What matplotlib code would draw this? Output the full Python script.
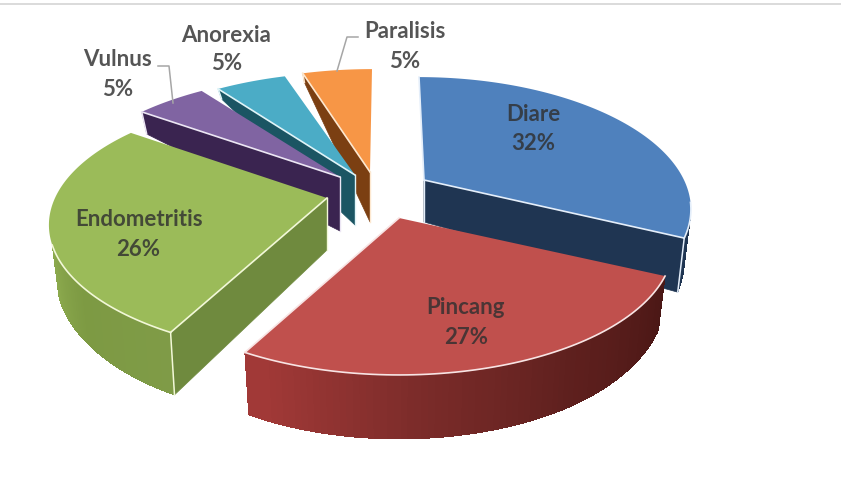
import numpy as np
import matplotlib
matplotlib.use("Agg")
import matplotlib.pyplot as plt
from matplotlib.patches import Polygon
from matplotlib.collections import PolyCollection
from matplotlib.colors import to_rgb

# ---- data ----
categories = ["Diare", "Pincang", "Endometritis", "Vulnus", "Anorexia", "Paralisis"]
percent = [32, 27, 26, 5, 5, 5]

# ---- style / layout (pixel space of the picture) ----
top_colors = ["#4f81bd", "#c0504d", "#9bbb59", "#8064a2", "#4bacc6", "#f79646"]
face_colors = ["#1f3552", "#5a1f1d", "#6f8a3e", "#3a2450", "#1b5563", "#7b3f12"]
edge_colors = ["#e4eefa", "#f8e4e4", "#f2f8d8", "#ece6f4", "#e0f4f8", "#fde8d0"]
apex_x = [424, 399, 327, 340, 355, 370]
apex_y = [180, 218, 198, 177, 175, 172]
radius = [260, 268, 272, 275, 272, 268]
apex_h = [42, 58, 52, 54, 50, 50]
lean = [5, 0, 0, 0, 0, -2]
draw_order = [5, 4, 3, 2, 0, 1]

DEPTH_A, DEPTH_B = 124.3, 0.208
BOTTOM_K = 0.975


def warp(theta):
    return np.interp(theta, [0, 115.2, 212.4, 306, 360], [0, 115.2, 208, 306, 360])


def project(i, theta):
    t = np.radians(warp(np.asarray(theta, dtype=float)))
    x, fwd = np.sin(t), -np.cos(t)
    f = 1 / (1 - DEPTH_B * fwd)
    return radius[i] * x * f + lean[i] * fwd, DEPTH_A * fwd * f, fwd


def rim_height(fwd):
    return np.interp(fwd, [-1, -0.81, -0.59, 0, 0.42, 0.85, 1], [9, 10, 22, 48, 54, 62, 64])


def rim(i, theta):
    dx, dy, fwd = project(i, theta)
    top = np.column_stack([apex_x[i] + dx, apex_y[i] + dy])
    bot = np.column_stack([apex_x[i] + dx * BOTTOM_K, apex_y[i] + dy + rim_height(fwd)])
    return top, bot


def mix(stops, t):
    pos = [s[0] for s in stops]
    cols = np.array([to_rgb(s[1]) for s in stops])
    return [tuple(np.interp(v, pos, cols[:, c]) for c in range(3)) for v in t]


# gradients on the outer wall of the front slices: (angle, colour)
wall_stops = {
    0: [(0, "#1f3552"), (360, "#1f3552")],
    1: [(115, "#4a1715"), (150, "#5f201e"), (180, "#7c2c2a"), (208, "#a13937")],
    2: [(212, "#7f9b47"), (235, "#7d9a43"), (255, "#8eac4f")],
}
wall_range = {0: (100, None), 1: (None, None), 2: (None, 252)}
# which light edges each top face shows: cut at start, cut at end, arc range
edge_start = [True, False, True, True, True, True]
edge_end = [True, True, False, False, False, False]
edge_arc = {0: (100, None), 1: (None, None), 2: (None, 252)}

fig = plt.figure(figsize=(8.41, 4.86), dpi=100)
ax = fig.add_axes([0, 0, 1, 1])
ax.set_xlim(0, 841)
ax.set_ylim(486, 0)
ax.axis("off")

ax.plot([0, 841], [4.5, 4.5], color="#d4d4d4", lw=1.2, zorder=0)

cum = np.concatenate([[0], np.cumsum(percent)]) / sum(percent) * 360
z = 1
for i in draw_order:
    th0, th1 = cum[i], cum[i + 1]
    ax_pt = np.array([apex_x[i], apex_y[i]], float)
    ax_bt = ax_pt + [0, apex_h[i]]

    # cut face: the one turned to the viewer
    if i != 1:
        th_face = th1 if i == 0 else th0
        t, b = rim(i, [th_face])
        ax.add_patch(Polygon([ax_pt, t[0], b[0], ax_bt], closed=True, fc=face_colors[i],
                             ec=face_colors[i], lw=0.5, zorder=z))
        z += 1

    # outer wall
    if i in wall_range:
        lo = wall_range[i][0] if wall_range[i][0] is not None else th0
        hi = wall_range[i][1] if wall_range[i][1] is not None else th1
        th = np.linspace(lo, hi, 80)
        t, b = rim(i, th)
        quads = [[t[k], t[k + 1], b[k + 1], b[k]] for k in range(len(th) - 1)]
        cols = mix(wall_stops[i], (th[:-1] + th[1:]) / 2)
        outline = np.vstack([t, b[::-1]])
        ax.add_patch(Polygon(outline, closed=True, fc=cols[len(cols) // 2], ec="none", zorder=z))
        ax.add_collection(PolyCollection(quads, facecolors=cols, edgecolors="none",
                                         linewidths=0, antialiaseds=False, zorder=z))
        z += 1

    # light edges on the vertical corners
    if i != 1:
        t, b = rim(i, [th_face])
        ax.plot([t[0, 0], b[0, 0]], [t[0, 1], b[0, 1]], color=edge_colors[i], lw=1.1, zorder=z)
        ax.plot([ax_pt[0], ax_bt[0]], [ax_pt[1], ax_bt[1]], color=edge_colors[i], lw=1.0, zorder=z)
        z += 1

    # top face
    th = np.linspace(th0, th1, 120)
    t, _ = rim(i, th)
    ax.add_patch(Polygon(np.vstack([ax_pt, t]), closed=True, fc=top_colors[i], ec="none", zorder=z))
    z += 1
    if edge_start[i]:
        ax.plot([ax_pt[0], t[0, 0]], [ax_pt[1], t[0, 1]], color=edge_colors[i], lw=1.2, zorder=z)
    if edge_end[i]:
        ax.plot([ax_pt[0], t[-1, 0]], [ax_pt[1], t[-1, 1]], color=edge_colors[i], lw=1.2, zorder=z)
    if i in edge_arc:
        lo = edge_arc[i][0] if edge_arc[i][0] is not None else th0
        hi = edge_arc[i][1] if edge_arc[i][1] is not None else th1
        ta, _ = rim(i, np.linspace(lo, hi, 80))
        ax.plot(ta[:, 0], ta[:, 1], color=edge_colors[i], lw=1.2, zorder=z)
    z += 1

# leader lines
leader_color = "#a6a6a6"
ax.plot([158, 169, 173], [66, 66, 103], color=leader_color, lw=1.1, zorder=z)
ax.plot([358, 347, 337], [37, 37, 71], color=leader_color, lw=1.1, zorder=z)

# labels
label_x = [533, 466, 139, 118, 226, 405]
label_y = [114, 307, 219, 59, 35, 31]
pct_x = [533, 466, 138, 118, 227, 405]
pct_y = [143, 337, 249, 89, 64, 61]
for i, name in enumerate(categories):
    kw = dict(ha="center", va="center", family="Lato", weight="bold", fontsize=16,
              color="#303030", alpha=0.82, zorder=z + 1)
    ax.text(label_x[i], label_y[i], name, **kw)
    ax.text(pct_x[i], pct_y[i], f"{percent[i]}%", **kw)

fig.savefig("out.png", dpi=100)
